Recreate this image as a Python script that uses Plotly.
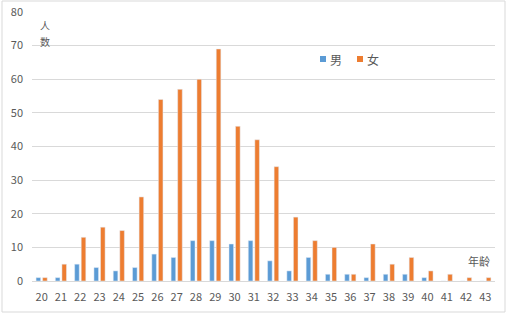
import plotly.graph_objects as go

ages = [str(a) for a in range(20, 44)]
male = [1, 1, 5, 4, 3, 4, 8, 7, 12, 12, 11, 12, 6, 3, 7, 2, 2, 1, 2, 2, 1, 0, 0, 0]
female = [1, 5, 13, 16, 15, 25, 54, 57, 60, 69, 46, 42, 34, 19, 12, 10, 2, 11, 5, 7, 3, 2, 1, 1]
y_ticks = [0, 10, 20, 30, 40, 50, 60, 70, 80]

BLUE = "#5B9BD5"
ORANGE = "#ED7D31"
GRAY = "#595959"
FONT = "Noto Sans CJK SC"

fig = go.Figure()
fig.add_trace(go.Bar(name="男", x=ages, y=male, marker_color=BLUE))
fig.add_trace(go.Bar(name="女", x=ages, y=female, marker_color=ORANGE))

W, H = 508, 314
L, R, T, B = 32, 13, 12, 33
pw, ph = W - L - R, H - T - B

def px_x(x):
    return (x - L) / pw

def px_y(y):
    return (H - B - y) / ph

fig.update_layout(
    width=W, height=H,
    margin=dict(l=L, r=R, t=T, b=B, pad=0, autoexpand=False),
    paper_bgcolor="white", plot_bgcolor="white",
    barmode="group", bargap=0.32, bargroupgap=0.3,
    showlegend=False,
    font=dict(family=FONT, size=11, color=GRAY),
)
fig.update_xaxes(
    type="category", showgrid=False, showline=True, linecolor="#d9d9d9", linewidth=1,
    ticks="", tickfont=dict(family=FONT, size=11, color=GRAY), ticklabelstandoff=6,
    automargin=False, fixedrange=True,
)
fig.update_yaxes(
    range=[0, 80], tickvals=y_ticks, showgrid=True, gridcolor="#d9d9d9", gridwidth=1,
    zeroline=False, showline=False, ticks="", automargin=False,
    tickfont=dict(family=FONT, size=11, color=GRAY), ticklabelstandoff=8,
)

# outer chart border
fig.add_shape(type="rect", xref="paper", yref="paper",
              x0=px_x(2), x1=px_x(505), y0=px_y(312), y1=px_y(1),
              line=dict(color="#d9d9d9", width=1), fillcolor="rgba(0,0,0,0)", layer="below")

# legend (custom)
for sx, txt, col in [(320, "男", BLUE), (357, "女", ORANGE)]:
    fig.add_shape(type="rect", xref="paper", yref="paper",
                  x0=px_x(sx), x1=px_x(sx + 6), y0=px_y(62), y1=px_y(56),
                  line=dict(width=0), fillcolor=col)
    fig.add_annotation(xref="paper", yref="paper", x=px_x(sx + 8), y=px_y(59),
                       text=txt, showarrow=False, xanchor="left", yanchor="middle",
                       font=dict(family=FONT, size=12, color=GRAY))

# axis titles
for ch, cy in [("人", 25), ("数", 41)]:
    fig.add_annotation(xref="paper", yref="paper", x=px_x(45), y=px_y(cy),
                       text=ch, showarrow=False, xanchor="center", yanchor="middle",
                       font=dict(family=FONT, size=10, color=GRAY))
fig.add_annotation(xref="paper", yref="paper", x=px_x(479), y=px_y(261),
                   text="年龄", showarrow=False, xanchor="center", yanchor="middle",
                   font=dict(family=FONT, size=11, color=GRAY))

fig.write_html("out.html")
